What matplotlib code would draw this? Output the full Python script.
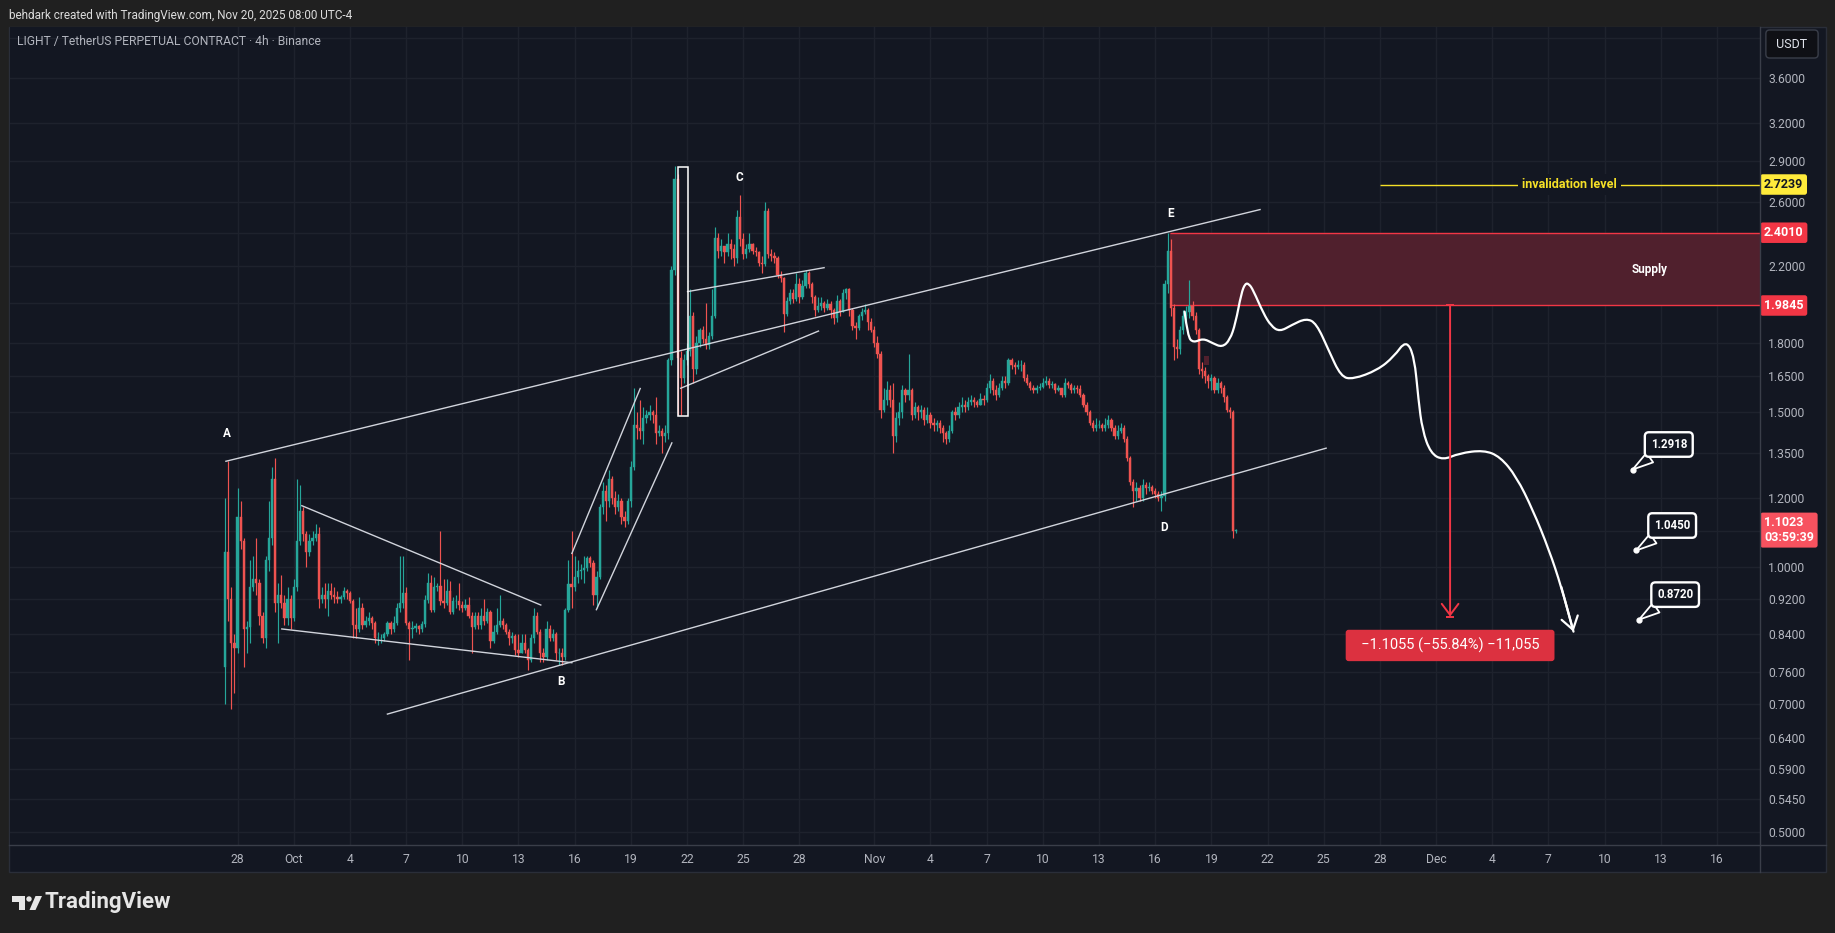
import numpy as np
import pandas as pd
import matplotlib
matplotlib.use("Agg")
import matplotlib.pyplot as plt
import matplotlib.dates as mdates
from matplotlib.patches import Rectangle, Polygon, Ellipse, PathPatch
from matplotlib.path import Path
from matplotlib.lines import Line2D
from matplotlib.ticker import FixedLocator, NullLocator, FuncFormatter
from matplotlib.transforms import blended_transform_factory

plt.rcParams["font.family"] = ["Roboto", "DejaVu Sans"]

W, H = 1835, 933

# ---- LIGHT/USDT perp, 4h candles (UTC-4), first candle Sep 27 08:00 ----
FIRST_CANDLE = "2025-09-27 08:00"
FIRST_OPEN = 0.77

closes = [
    1.04, 0.92, 0.82, 0.81,                      # Sep 27
    1.14, 1.07, 0.85, 0.855, 0.95, 0.97,         # Sep 28
    0.96, 0.88, 0.83, 1.02, 1.08, 1.26,          # Sep 29
    0.91, 0.93, 0.91, 0.875, 0.92, 0.875,        # Sep 30
    0.95, 1.07, 1.16, 1.09, 1.04, 1.07,          # Oct 1
    1.08, 1.09, 0.92, 0.93, 0.92, 0.94,          # Oct 2
    0.93, 0.925, 0.92, 0.925, 0.94, 0.935,       # Oct 3
    0.915, 0.86, 0.85, 0.90, 0.86, 0.87,         # Oct 4
    0.875, 0.865, 0.83, 0.83, 0.83, 0.84,        # Oct 5
    0.865, 0.85, 0.865, 0.90, 0.91, 0.935,       # Oct 6
    0.865, 0.85, 0.853, 0.857, 0.85, 0.862,      # Oct 7
    0.918, 0.96, 0.895, 0.95, 0.952, 0.915,      # Oct 8
    0.91, 0.94, 0.89, 0.915, 0.915, 0.905,       # Oct 9
    0.90, 0.905, 0.88, 0.855, 0.88, 0.86,        # Oct 10
    0.88, 0.87, 0.89, 0.825, 0.845, 0.86,        # Oct 11
    0.868, 0.86, 0.845, 0.83, 0.835, 0.805,      # Oct 12
    0.80, 0.82, 0.805, 0.785, 0.83, 0.88,        # Oct 13
    0.845, 0.80, 0.79, 0.85, 0.83, 0.84,         # Oct 14
    0.80, 0.80, 0.79, 0.895, 0.957, 0.95,        # Oct 15
    0.975, 0.99, 0.993, 0.997, 1.024, 1.012,     # Oct 16
    0.93, 0.975, 1.17, 1.22, 1.19, 1.26,         # Oct 17
    1.20, 1.17, 1.19, 1.14, 1.13, 1.19,          # Oct 18
    1.30, 1.45, 1.44, 1.43, 1.48, 1.49,          # Oct 19
    1.50, 1.49, 1.42, 1.43, 1.41, 1.42,          # Oct 20
    1.72, 2.18, 2.76, 1.73, 1.64, 1.72,          # Oct 21
    1.76, 1.93, 1.68, 1.80, 1.86, 1.82,          # Oct 22
    1.79, 1.83, 1.93, 2.37, 2.29, 2.32,          # Oct 23
    2.28, 2.33, 2.30, 2.25, 2.50, 2.36,          # Oct 24
    2.27, 2.30, 2.33, 2.29, 2.28, 2.22,          # Oct 25
    2.21, 2.54, 2.27, 2.26, 2.25, 2.15,          # Oct 26
    2.13, 1.94, 2.01, 2.05, 2.02, 2.10,          # Oct 27
    2.03, 2.09, 2.16, 2.10, 2.03, 1.96,          # Oct 28
    1.98, 2.00, 1.97, 1.99, 1.96, 1.92,          # Oct 29
    2.01, 1.95, 2.05, 2.07, 1.96, 1.88,          # Oct 30
    1.87, 1.93, 1.95, 1.96, 1.90, 1.86,          # Oct 31
    1.80, 1.75, 1.51, 1.55, 1.59, 1.55,          # Nov 1
    1.41, 1.48, 1.50, 1.59, 1.57, 1.59,          # Nov 2
    1.49, 1.52, 1.50, 1.51, 1.47, 1.49,          # Nov 3
    1.46, 1.45, 1.46, 1.44, 1.42, 1.40,          # Nov 4
    1.43, 1.50, 1.49, 1.52, 1.53, 1.52,          # Nov 5
    1.54, 1.55, 1.54, 1.53, 1.555, 1.55,         # Nov 6
    1.60, 1.63, 1.59, 1.57, 1.60, 1.63,          # Nov 7
    1.62, 1.72, 1.70, 1.69, 1.70, 1.70,          # Nov 8
    1.64, 1.62, 1.60, 1.59, 1.60, 1.605,         # Nov 9
    1.62, 1.63, 1.61, 1.615, 1.59, 1.60,         # Nov 10
    1.57, 1.62, 1.61, 1.59, 1.60, 1.595,         # Nov 11
    1.57, 1.53, 1.50, 1.46, 1.44, 1.45,          # Nov 12
    1.45, 1.44, 1.45, 1.47, 1.44, 1.41,          # Nov 13
    1.43, 1.44, 1.40, 1.33, 1.25, 1.22,          # Nov 14
    1.23, 1.20, 1.24, 1.23, 1.235, 1.22,         # Nov 15
    1.21, 1.20, 1.205, 2.10, 2.29, 1.97,         # Nov 16
    1.78, 1.77, 1.86, 1.93, 1.95, 1.98,          # Nov 17
    1.93, 1.86, 1.68, 1.67, 1.65, 1.63,          # Nov 18
    1.64, 1.59, 1.62, 1.60, 1.56, 1.51,          # Nov 19
    1.50, 1.10, 1.1023,                          # Nov 20
]

highs = [
    1.20, 1.32, 0.95, 0.84,
    1.23, 1.19, 1.08, 0.87, 1.02, 1.03,
    1.08, 0.97, 0.89, 1.03, 1.19, 1.30,
    1.33, 0.96, 0.98, 0.93, 0.95, 0.93,
    0.97, 1.26, 1.24, 1.17, 1.10, 1.09,
    1.10, 1.12, 1.11, 0.95, 0.96, 0.96,
    0.96, 0.95, 0.94, 0.93, 0.95, 0.945,
    0.94, 0.92, 0.90, 0.925, 0.91, 0.88,
    0.89, 0.88, 0.87, 0.845, 0.84, 0.845,
    0.87, 0.87, 0.88, 0.91, 1.03, 1.03,
    0.95, 0.87, 0.87, 0.865, 0.86, 0.87,
    0.93, 0.985, 0.98, 0.975, 0.96, 1.10,
    0.97, 0.97, 0.965, 0.925, 0.93, 0.96,
    0.915, 0.92, 0.925, 0.89, 0.89, 0.89,
    0.90, 0.92, 0.90, 0.895, 0.86, 0.90,
    0.93, 0.875, 0.865, 0.85, 0.845, 0.84,
    0.84, 0.84, 0.84, 0.81, 0.84, 0.90,
    0.89, 0.85, 0.81, 0.87, 0.86, 0.85,
    0.845, 0.81, 0.81, 0.90, 1.02, 1.10,
    1.03, 1.02, 1.01, 1.03, 1.03, 1.03,
    1.02, 0.99, 1.18, 1.25, 1.24, 1.29,
    1.27, 1.22, 1.21, 1.20, 1.16, 1.20,
    1.32, 1.60, 1.50, 1.55, 1.52, 1.51,
    1.53, 1.51, 1.56, 1.45, 1.44, 1.45,
    1.73, 2.20, 2.86, 2.80, 1.76, 1.75,
    1.80, 2.07, 1.95, 1.83, 1.87, 1.88,
    2.00, 1.85, 2.07, 2.44, 2.40, 2.36,
    2.32, 2.40, 2.36, 2.33, 2.55, 2.65,
    2.40, 2.33, 2.40, 2.34, 2.31, 2.29,
    2.26, 2.60, 2.56, 2.30, 2.28, 2.26,
    2.17, 2.14, 2.03, 2.07, 2.07, 2.16,
    2.13, 2.12, 2.18, 2.17, 2.11, 2.04,
    2.03, 2.03, 2.01, 2.02, 2.01, 1.97,
    2.04, 2.02, 2.07, 2.08, 2.08, 1.97,
    1.90, 1.94, 1.97, 1.99, 1.97, 1.92,
    1.88, 1.83, 1.76, 1.60, 1.63, 1.61,
    1.62, 1.50, 1.54, 1.61, 1.60, 1.75,
    1.60, 1.54, 1.53, 1.53, 1.52, 1.52,
    1.50, 1.48, 1.47, 1.47, 1.45, 1.43,
    1.45, 1.51, 1.52, 1.54, 1.56, 1.55,
    1.56, 1.57, 1.56, 1.55, 1.58, 1.57,
    1.62, 1.66, 1.64, 1.61, 1.62, 1.65,
    1.65, 1.73, 1.73, 1.71, 1.72, 1.72,
    1.71, 1.66, 1.63, 1.61, 1.61, 1.62,
    1.64, 1.65, 1.64, 1.63, 1.62, 1.61,
    1.60, 1.64, 1.63, 1.62, 1.61, 1.61,
    1.61, 1.58, 1.54, 1.51, 1.47, 1.48,
    1.47, 1.46, 1.48, 1.49, 1.48, 1.45,
    1.45, 1.46, 1.45, 1.41, 1.34, 1.26,
    1.25, 1.24, 1.26, 1.25, 1.25, 1.24,
    1.23, 1.22, 1.22, 2.12, 2.401, 2.36,
    1.99, 1.82, 1.88, 1.96, 1.98, 2.12,
    2.01, 1.95, 1.87, 1.71, 1.69, 1.66,
    1.66, 1.65, 1.64, 1.63, 1.61, 1.57,
    1.52, 1.51, 1.106,
]

lows = [
    0.70, 0.87, 0.69, 0.72,
    0.80, 1.05, 0.77, 0.80, 0.82, 0.94,
    0.93, 0.86, 0.82, 0.81, 0.99, 1.06,
    0.89, 0.82, 0.90, 0.86, 0.86, 0.85,
    0.87, 0.94, 1.06, 1.07, 1.00, 1.03,
    1.06, 1.07, 0.90, 0.91, 0.90, 0.88,
    0.92, 0.91, 0.91, 0.91, 0.92, 0.92,
    0.91, 0.83, 0.83, 0.845, 0.85, 0.855,
    0.86, 0.85, 0.82, 0.815, 0.82, 0.825,
    0.835, 0.84, 0.845, 0.86, 0.89, 0.90,
    0.86, 0.785, 0.83, 0.845, 0.84, 0.845,
    0.855, 0.91, 0.89, 0.89, 0.94, 0.905,
    0.90, 0.905, 0.885, 0.885, 0.90, 0.895,
    0.89, 0.895, 0.875, 0.80, 0.85, 0.85,
    0.85, 0.86, 0.865, 0.81, 0.82, 0.84,
    0.855, 0.85, 0.84, 0.815, 0.82, 0.795,
    0.79, 0.80, 0.80, 0.765, 0.78, 0.82,
    0.84, 0.78, 0.78, 0.785, 0.825, 0.825,
    0.785, 0.775, 0.775, 0.785, 0.89, 0.90,
    0.94, 0.96, 0.97, 0.96, 0.99, 1.00,
    0.905, 0.90, 0.97, 1.15, 1.13, 1.17,
    1.18, 1.15, 1.16, 1.12, 1.11, 1.12,
    1.17, 1.29, 1.40, 1.40, 1.38, 1.46,
    1.47, 1.46, 1.38, 1.41, 1.35, 1.39,
    1.40, 1.70, 2.15, 1.49, 1.49, 1.62,
    1.70, 1.74, 1.62, 1.66, 1.78, 1.80,
    1.77, 1.77, 1.82, 1.92, 2.25, 2.26,
    2.22, 2.26, 2.24, 2.20, 2.22, 2.32,
    2.24, 2.25, 2.28, 2.27, 2.26, 2.20,
    2.16, 2.20, 2.25, 2.23, 2.22, 2.13,
    2.11, 1.85, 1.93, 1.99, 2.00, 2.01,
    2.00, 2.02, 2.08, 2.08, 2.00, 1.93,
    1.95, 1.96, 1.95, 1.96, 1.92, 1.89,
    1.90, 1.93, 1.95, 2.02, 1.93, 1.86,
    1.82, 1.86, 1.91, 1.94, 1.86, 1.85,
    1.78, 1.73, 1.48, 1.50, 1.53, 1.52,
    1.35, 1.39, 1.45, 1.48, 1.54, 1.55,
    1.47, 1.48, 1.47, 1.48, 1.45, 1.46,
    1.44, 1.43, 1.43, 1.42, 1.39, 1.38,
    1.39, 1.42, 1.47, 1.48, 1.50, 1.50,
    1.51, 1.53, 1.52, 1.52, 1.53, 1.53,
    1.54, 1.58, 1.57, 1.55, 1.56, 1.59,
    1.60, 1.61, 1.68, 1.66, 1.68, 1.67,
    1.63, 1.61, 1.59, 1.58, 1.58, 1.59,
    1.60, 1.61, 1.60, 1.60, 1.58, 1.585,
    1.56, 1.56, 1.60, 1.58, 1.58, 1.58,
    1.56, 1.52, 1.49, 1.45, 1.43, 1.43,
    1.44, 1.43, 1.43, 1.44, 1.43, 1.40,
    1.40, 1.42, 1.39, 1.32, 1.24, 1.17,
    1.19, 1.19, 1.19, 1.21, 1.22, 1.21,
    1.20, 1.19, 1.16, 1.19, 2.05, 1.93,
    1.72, 1.73, 1.75, 1.84, 1.90, 1.92,
    1.91, 1.84, 1.66, 1.64, 1.62, 1.60,
    1.59, 1.58, 1.58, 1.58, 1.54, 1.50,
    1.48, 1.08, 1.095,
]

assert len(closes) == len(highs) == len(lows)

# price scale
price_ticks = [3.6, 3.2, 2.9, 2.6, 2.2, 1.8, 1.65, 1.5, 1.35, 1.2, 1.0,
               0.92, 0.84, 0.76, 0.70, 0.64, 0.59, 0.545, 0.50]
grid_extra = [4.0, 2.4, 2.0, 1.1]

# time scale
time_ticks = ["2025-09-28", "2025-10-01", "2025-10-04", "2025-10-07", "2025-10-10",
              "2025-10-13", "2025-10-16", "2025-10-19", "2025-10-22", "2025-10-25",
              "2025-10-28", "2025-11-01", "2025-11-04", "2025-11-07", "2025-11-10",
              "2025-11-13", "2025-11-16", "2025-11-19", "2025-11-22", "2025-11-25",
              "2025-11-28", "2025-12-01", "2025-12-04", "2025-12-07", "2025-12-10",
              "2025-12-13", "2025-12-16"]
time_labels = ["28", "Oct", "4", "7", "10", "13", "16", "19", "22", "25", "28",
               "Nov", "4", "7", "10", "13", "16", "19", "22", "25", "28",
               "Dec", "4", "7", "10", "13", "16"]

# levels drawn on the chart
supply_top = 2.4010
supply_bottom = 1.9845
invalidation = 2.7239
last_price = 1.1023
countdown = "03:59:39"
targets = [1.2918, 1.0450, 0.8720]
move_abs = -1.1055
move_pct = -55.84
move_ticks = -11055

BG = "#131722"
OUTER = "#202020"
GRID = "#1e222d"
AXTXT = "#b2b5be"
GREEN = "#26a69a"
RED = "#ef5350"
ZONE_RED = "#f23645"
YELLOW = "#f5e027"

base = mdates.date2num(pd.Timestamp("2025-09-28"))


def day(d):
    return base + d


def fx(px):
    return px / W


def fy(py):
    return 1 - py / H


fig = plt.figure(figsize=(W / 100, H / 100), dpi=100, facecolor=OUTER)

# chart panel background (below the axes)
fig.patches.append(Rectangle((fx(9), fy(872)), (1826 - 9) / W, (872 - 27) / H,
                             transform=fig.transFigure, fc=BG, ec="#2a2e39", lw=1, zorder=-5))

ax = fig.add_axes([fx(10), fy(845), (1760 - 10) / W, (845 - 27) / H])
ax.set_facecolor(BG)
ax.set_yscale("log")
ax.set_ylim(0.4834, 4.114)
ax.set_xlim(day(-12.155), day(81.30))
for s in ax.spines.values():
    s.set_visible(False)

# grid
for p in price_ticks + grid_extra:
    ax.axhline(p, color=GRID, lw=1.0, zorder=0)
tick_x = mdates.date2num(pd.to_datetime(time_ticks))
for x in tick_x:
    ax.axvline(x, color=GRID, lw=1.0, zorder=0)

# price axis on the right
ax.yaxis.tick_right()
ax.yaxis.set_major_locator(FixedLocator(price_ticks))
ax.yaxis.set_minor_locator(NullLocator())
ax.yaxis.set_major_formatter(FuncFormatter(lambda v, pos: f"{v:.4f}"))
ax.yaxis.set_minor_formatter(FuncFormatter(lambda v, pos: ""))
ax.tick_params(axis="y", which="both", length=0, pad=6, labelcolor=AXTXT, labelsize=8.7)

ax.set_xticks(tick_x)
ax.set_xticklabels(time_labels)
ax.tick_params(axis="x", length=0, pad=6, labelcolor=AXTXT, labelsize=8.7)

# candles
t = mdates.date2num(pd.date_range(FIRST_CANDLE, periods=len(closes), freq="4h"))
c = np.array(closes)
o = np.r_[FIRST_OPEN, c[:-1]]
hi = np.maximum(np.array(highs), np.maximum(o, c))
lo = np.minimum(np.array(lows), np.minimum(o, c))
cols = np.where(c >= o, GREEN, RED)
ax.vlines(t, lo, hi, colors=cols, lw=0.85, zorder=4)
ax.bar(t, np.abs(c - o), bottom=np.minimum(o, c), width=0.12, color=cols,
       edgecolor=cols, linewidth=0.3, zorder=5)

# supply zone
ax.add_patch(Rectangle((day(49.8), supply_bottom), day(81.3) - day(49.8),
                       supply_top - supply_bottom, fc="#50202d", ec="none", zorder=1))
ax.hlines([supply_top, supply_bottom], day(49.8), day(81.3), colors=ZONE_RED, lw=1.0, zorder=2)
ax.add_patch(Rectangle((day(51.62), 1.70), 0.28, 0.04, fc="#50202d", ec="none", zorder=6))
ax.text(day(75.43), 2.18, "Supply", color="white", fontsize=8.5, fontweight="bold",
        ha="center", va="center", zorder=7)

# invalidation level
ax.hlines(invalidation, day(61.0), day(81.3), colors=YELLOW, lw=1.0, zorder=2)
ax.text(day(71.12), invalidation, "invalidation level", color=YELLOW, fontsize=9,
        fontweight="bold", ha="center", va="center", zorder=3,
        bbox=dict(boxstyle="square,pad=0.35", fc=BG, ec="none"))

# trend lines
LINE = "#d1d4dc"
trend_lines = [
    ((-0.625, 1.320), (54.6, 2.551)),
    ((8.0, 0.681), (58.13, 1.366)),
    ((3.43, 1.175), (16.19, 0.906)),
    ((2.36, 0.851), (17.85, 0.779)),
    ((17.85, 1.037), (21.5, 1.597)),
    ((19.16, 0.895), (23.19, 1.385)),
    ((24.03, 2.058), (31.32, 2.191)),
    ((23.66, 1.598), (31.02, 1.856)),
]
for (d0, p0), (d1, p1) in trend_lines:
    ax.plot([day(d0), day(d1)], [p0, p1], color=LINE, lw=1.0, zorder=6)

ax.add_patch(Rectangle((day(23.5), 1.487), day(24.03) - day(23.5), 2.851 - 1.487,
                       fc="none", ec="white", lw=1.1, zorder=6))

for lab, d, p in [("A", -0.57, 1.421), ("B", 17.25, 0.742), ("C", 26.81, 2.771),
                  ("D", 49.5, 1.109), ("E", 49.81, 2.528)]:
    ax.text(day(d), p, lab, color="white", fontsize=8.5, fontweight="bold",
            ha="center", va="center", zorder=7)

# projected path (freehand curve, smoothed through the midpoints of the drawn points)
path = [(50.57, 1.953), (50.74, 1.829), (51.04, 1.800), (51.56, 1.821), (52.07, 1.798),
        (52.58, 1.779), (52.99, 1.813), (53.29, 1.894), (53.60, 2.049), (53.81, 2.103),
        (54.01, 2.10), (54.23, 2.067), (54.78, 1.944), (55.19, 1.881), (55.65, 1.853),
        (56.30, 1.886), (57.06, 1.919), (57.61, 1.894), (58.26, 1.766), (58.92, 1.647),
        (59.57, 1.636), (60.88, 1.676), (61.75, 1.736), (62.40, 1.813), (62.84, 1.736),
        (63.06, 1.550), (63.27, 1.432), (63.71, 1.348), (64.37, 1.324), (65.24, 1.348),
        (66.55, 1.359), (67.42, 1.336), (68.29, 1.268), (69.17, 1.162), (70.04, 1.046),
        (70.69, 0.950), (71.34, 0.845)]
verts = [(day(path[0][0]), path[0][1])]
codes = [Path.MOVETO]
for k in range(1, len(path) - 1):
    (d0, p0), (d1, p1) = path[k], path[k + 1]
    verts += [(day(d0), p0), (day((d0 + d1) / 2), np.sqrt(p0 * p1))]
    codes += [Path.CURVE3, Path.CURVE3]
verts.append((day(path[-1][0]), path[-1][1]))
codes.append(Path.LINETO)
ax.add_patch(PathPatch(Path(verts, codes), fc="none", ec="white", lw=1.6,
                       joinstyle="round", capstyle="round", zorder=7))
ax.annotate("", xy=(day(71.34), 0.845), xytext=(day(70.69), 0.950),
            arrowprops=dict(arrowstyle="->,head_length=0.9,head_width=0.6", color="white",
                            lw=1.6, shrinkA=0, shrinkB=0), zorder=7)

# measure arrow
mx = 64.75
m_end = supply_bottom + move_abs
ax.annotate("", xy=(day(mx), m_end), xytext=(day(mx), supply_bottom),
            arrowprops=dict(arrowstyle="->,head_length=0.8,head_width=0.6", color=ZONE_RED,
                            lw=1.4, shrinkA=0, shrinkB=0), zorder=7)
ax.hlines([supply_bottom, m_end], day(mx - 0.22), day(mx + 0.22), colors=ZONE_RED, lw=1.4, zorder=7)
ax.text(day(mx), 0.815,
        f"  \u2212{abs(move_abs):.4f} (\u2212{abs(move_pct):.2f}%) \u2212{abs(move_ticks):,}  ",
        color="white", fontsize=10.5, ha="center", va="center", zorder=8,
        bbox=dict(boxstyle="round,pad=0.55,rounding_size=0.2", fc="#dc3140", ec="none"))

# target callouts
for v, d in zip(targets, [74.5, 74.68, 74.84]):
    ax.plot(day(d), v, "o", color="white", ms=3.5, zorder=9)
    ax.annotate(f"{v:.4f}", xy=(day(d), v), xytext=(26, 18), textcoords="offset points",
                ha="center", va="center", color="white", fontsize=8.3, fontweight="bold",
                bbox=dict(boxstyle="round,pad=0.5,rounding_size=0.35", fc=BG, ec="white", lw=1.7),
                arrowprops=dict(arrowstyle="wedge,tail_width=1.0,shrink_factor=0.5", fc=BG,
                                ec="white", lw=1.3, shrinkA=0, shrinkB=0),
                zorder=9)

# price tags on the axis
tr = blended_transform_factory(ax.transAxes, ax.transData)
tx = 1.0 + 4 / 1750


def tag(y, text, fc, tc, size=9):
    ax.text(tx, y, text, transform=tr, ha="left", va="center", color=tc, fontsize=size,
            fontweight="bold", clip_on=False, zorder=20, linespacing=1.15,
            bbox=dict(boxstyle="round,pad=0.3,rounding_size=0.2", fc=fc, ec="none"))


tag(invalidation, f"{invalidation:.4f}", "#ffeb3b", "#131722")
tag(supply_top, f"{supply_top:.4f}", ZONE_RED, "white")
tag(supply_bottom, f"{supply_bottom:.4f}", ZONE_RED, "white")
tag(last_price, f"{last_price:.4f}\n{countdown}", "#f7525f", "white")

# axis separators
fig.add_artist(Line2D([fx(1760), fx(1760)], [fy(27), fy(872)], color="#3a3e49", lw=1))
fig.add_artist(Line2D([fx(9), fx(1826)], [fy(845), fy(845)], color="#3a3e49", lw=1))

fig.text(fx(1792), fy(44), " USDT ", ha="center", va="center", color="#e0e3eb", fontsize=9,
         bbox=dict(boxstyle="round,pad=0.6,rounding_size=0.3", fc="#0f1015", ec="#3a3e49", lw=1))

# header / title
fig.text(fx(9), fy(15), "behdark created with TradingView.com, Nov 20, 2025 08:00 UTC-4",
         color="#dcdcdc", fontsize=8.5, ha="left", va="center")
fig.text(fx(17), fy(41), "LIGHT / TetherUS PERPETUAL CONTRACT \u00b7 4h \u00b7 Binance",
         color=AXTXT, fontsize=8.7, ha="left", va="center")

# TradingView logo
logo_c = "#e6e6e6"
fig.patches.append(Polygon([(fx(12), fy(896)), (fx(24.5), fy(896)), (fx(24.5), fy(910)),
                            (fx(18.5), fy(910)), (fx(18.5), fy(901.5)), (fx(12), fy(901.5))],
                           closed=True, transform=fig.transFigure, fc=logo_c, ec="none"))
fig.patches.append(Ellipse((fx(29), fy(899)), 5.4 / W, 5.4 / H, transform=fig.transFigure,
                           fc=logo_c, ec="none"))
fig.patches.append(Polygon([(fx(35.5), fy(896)), (fx(42), fy(896)), (fx(35.5), fy(910)),
                            (fx(29.5), fy(910))], closed=True, transform=fig.transFigure,
                           fc=logo_c, ec="none"))
fig.text(fx(44), fy(902), "TradingView", color=logo_c, fontsize=16, fontweight="bold",
         ha="left", va="center")

fig.savefig("out.png", dpi=100, facecolor=OUTER)
